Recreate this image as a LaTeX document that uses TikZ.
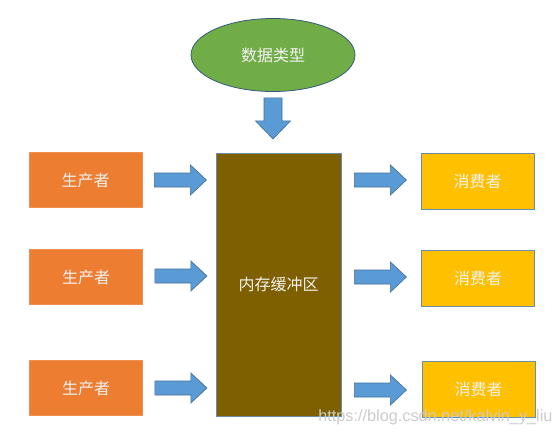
\documentclass[tikz,border=0pt]{standalone}
\usepackage{fontspec}
\newfontfamily\cjk{Noto Sans CJK SC}
\newfontfamily\wmfont{Liberation Sans}
\usetikzlibrary{shapes.geometric,calc}
\newdimen\pxu \pxu=0.75pt
\definecolor{orangeP}{HTML}{ED7D31}
\definecolor{goldC}{HTML}{FFC000}
\definecolor{brownB}{HTML}{7F6000}
\definecolor{greenE}{HTML}{70AD47}
\definecolor{blueA}{HTML}{5B9BD5}
\definecolor{blueAline}{HTML}{41719C}
\definecolor{edgeblue}{HTML}{6A8CAF}
\definecolor{txtw}{HTML}{F2F2F2}
\tikzset{
  boxbase/.style={rectangle, inner sep=0pt, text=txtw, font=\cjk\fontsize{12pt}{14pt}\selectfont},
  prodbox/.style={boxbase, fill=orangeP, draw=orangeP!85!white, line width=0.6pt, minimum width=113\pxu, minimum height=55\pxu},
  consbox/.style={boxbase, fill=goldC, draw=edgeblue, line width=0.6pt, minimum width=113\pxu, minimum height=56\pxu},
  bufbox/.style={boxbase, fill=brownB, draw=edgeblue, line width=0.6pt, minimum width=125\pxu, minimum height=263\pxu},
  typeell/.style={boxbase, ellipse, fill=greenE, draw=blueAline!80!black, line width=0.6pt, minimum width=164\pxu, minimum height=73\pxu},
  barrow/.style={fill=blueA, draw=blueAline, line width=0.5pt, line join=miter},
  wmark/.style={font=\wmfont\fontsize{12.2pt}{14pt}\selectfont, text=gray!40, inner sep=0pt, anchor=base west}
}
\begin{document}
\begin{tikzpicture}[x=0.75pt, y=-0.75pt]
\useasboundingbox[fill=white] (0,0) rectangle (560,432);
% nodes
\node[typeell] (dtype) at (273,55) {数据类型};
\node[bufbox] (buf) at (278.5,284.5) {内存缓冲区};
\node[prodbox] (p1) at (85.5,180) {生产者};
\node[prodbox] (p2) at (86,277) {生产者};
\node[prodbox] (p3) at (86,388) {生产者};
\node[consbox] (c1) at (477.5,181) {消费者};
\node[consbox] (c2) at (478,278) {消费者};
\node[consbox] (c3) at (478.5,389.5) {消费者};
% down arrow from data type to buffer
\coordinate (dA) at ($(dtype.south)+(0,6)$);
\draw[barrow] (dA) ++(-9,0) -- ++(18,0) -- ++(0,23) -- ++(8.5,0) -- ++(-17.5,18) -- ++(-17.5,-18) -- ++(8.5,0) -- cycle;
% producer arrows
\foreach \p/\yy in {p1/180,p2/276,p3/388}{
  \coordinate (s\p) at ($(\p.east |- 0,\yy)+(12,0)$);
  \draw[barrow] (s\p) ++(0,-7) -- ++(36,0) -- ++(0,-8) -- ++(16,15) -- ++(-16,15) -- ++(0,-8) -- ++(-36,0) -- cycle;
}
% consumer arrows
\foreach \c/\yy in {c1/180,c2/277,c3/390}{
  \coordinate (s\c) at ($(buf.east |- 0,\yy)+(13,0)$);
  \draw[barrow] (s\c) ++(0,-7) -- ++(36,0) -- ++(0,-8) -- ++(16,15) -- ++(-16,15) -- ++(0,-8) -- ++(-36,0) -- cycle;
}
% watermark
\node[wmark] (wm) at (318,421) {https://blog.csdn.net/kalvin\_y\_liu};
\end{tikzpicture}
\end{document}
